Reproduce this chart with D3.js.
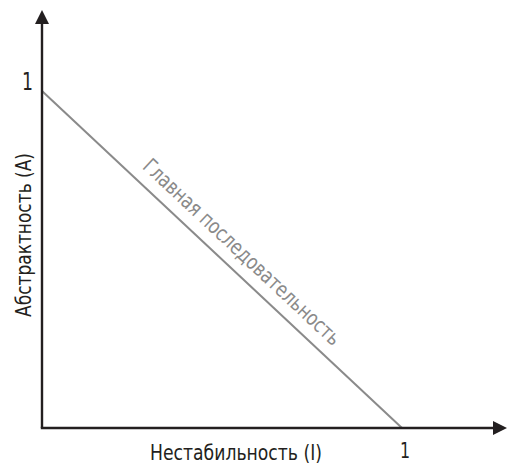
<!DOCTYPE html>
<html>
<head>
<meta charset="utf-8">
<script src="https://cdn.jsdelivr.net/npm/d3@7"></script>
<style>
  html, body { margin: 0; padding: 0; background: #fff; }
  svg { display: block; }
  text { font-family: "DejaVu Sans Condensed", "Liberation Sans Narrow", "Roboto", sans-serif; }
</style>
</head>
<body>
<svg id="chart" width="507" height="464"></svg>
<script>
// Data
const xTickValues = [1];
const xTickLabels = ["1"];
const yTickValues = [1];
const yTickLabels = ["1"];
const mainSequenceI = [0, 1];
const mainSequenceA = [1, 0];
const xTitle = "Нестабильность (I)";
const yTitle = "Абстрактность (А)";
const lineLabel = "Главная последовательность";

const svg = d3.select("#chart");
const x0 = 42, y0 = 428;

const x = d3.scaleLinear().domain([0, 1]).range([x0, 402]);
const y = d3.scaleLinear().domain([0, 1]).range([y0, 91]);

const axisColor = "#231f20";
const grey = "#8a8a8a";

// main sequence line
const pts = mainSequenceI.map((d, i) => [d, mainSequenceA[i]]);
svg.append("path")
  .attr("d", d3.line().x(d => x(d[0])).y(d => y(d[1]))(pts))
  .attr("stroke", grey)
  .attr("stroke-width", 2)
  .attr("fill", "none");

// axes lines
svg.append("line").attr("x1", x0).attr("y1", y0).attr("x2", x0).attr("y2", 20)
  .attr("stroke", axisColor).attr("stroke-width", 2.4);
svg.append("line").attr("x1", x0 - 1.2).attr("y1", y0).attr("x2", 497).attr("y2", y0)
  .attr("stroke", axisColor).attr("stroke-width", 2.4);

// arrow heads
svg.append("path").attr("d", `M${x0},10 L${x0 + 7},24 L${x0 - 7},24 Z`).attr("fill", axisColor);
svg.append("path").attr("d", `M507,${y0} L493,${y0 - 7} L493,${y0 + 7} Z`).attr("fill", axisColor);

// tick labels
svg.selectAll(".xt").data(xTickValues).enter().append("text")
  .attr("x", d => x(d) + 3).attr("y", 458.5)
  .attr("text-anchor", "middle")
  .attr("font-size", 22).attr("fill", axisColor)
  .attr("transform", d => `translate(${x(d) + 3},0) scale(0.8,1) translate(${-(x(d) + 3)},0)`)
  .text((d, i) => xTickLabels[i]);

svg.selectAll(".yt").data(yTickValues).enter().append("text")
  .attr("x", 33).attr("y", d => y(d) - 1)
  .attr("text-anchor", "end")
  .attr("font-size", 24).attr("fill", axisColor)
  .attr("transform", "translate(33,0) scale(0.8,1) translate(-33,0)")
  .text((d, i) => yTickLabels[i]);

// axis titles
svg.append("text")
  .attr("x", 236).attr("y", 460)
  .attr("text-anchor", "middle")
  .attr("font-size", 22).attr("fill", axisColor)
  .attr("textLength", 172).attr("lengthAdjust", "spacingAndGlyphs")
  .text(xTitle);

svg.append("text")
  .attr("transform", "translate(31,235) rotate(-90)")
  .attr("text-anchor", "middle")
  .attr("font-size", 22).attr("fill", axisColor)
  .attr("textLength", 164).attr("lengthAdjust", "spacingAndGlyphs")
  .text(yTitle);

// line label, placed along the main sequence
const ax = x(1) - x(0), ay = y(0) - y(1);
const len = Math.hypot(ax, ay);
const ux = ax / len, uy = ay / len;
const nx = uy, ny = -ux;
const along = 256, off = 12;
const lx = x(0) + along * ux + off * nx;
const ly = y(1) + along * uy + off * ny;
const angle = Math.atan2(ay, ax) * 180 / Math.PI;
svg.append("text")
  .attr("transform", `translate(${lx},${ly}) rotate(${angle})`)
  .attr("text-anchor", "middle")
  .attr("font-size", 21).attr("fill", grey)
  .attr("textLength", 262).attr("lengthAdjust", "spacingAndGlyphs")
  .text(lineLabel);
</script>
</body>
</html>
